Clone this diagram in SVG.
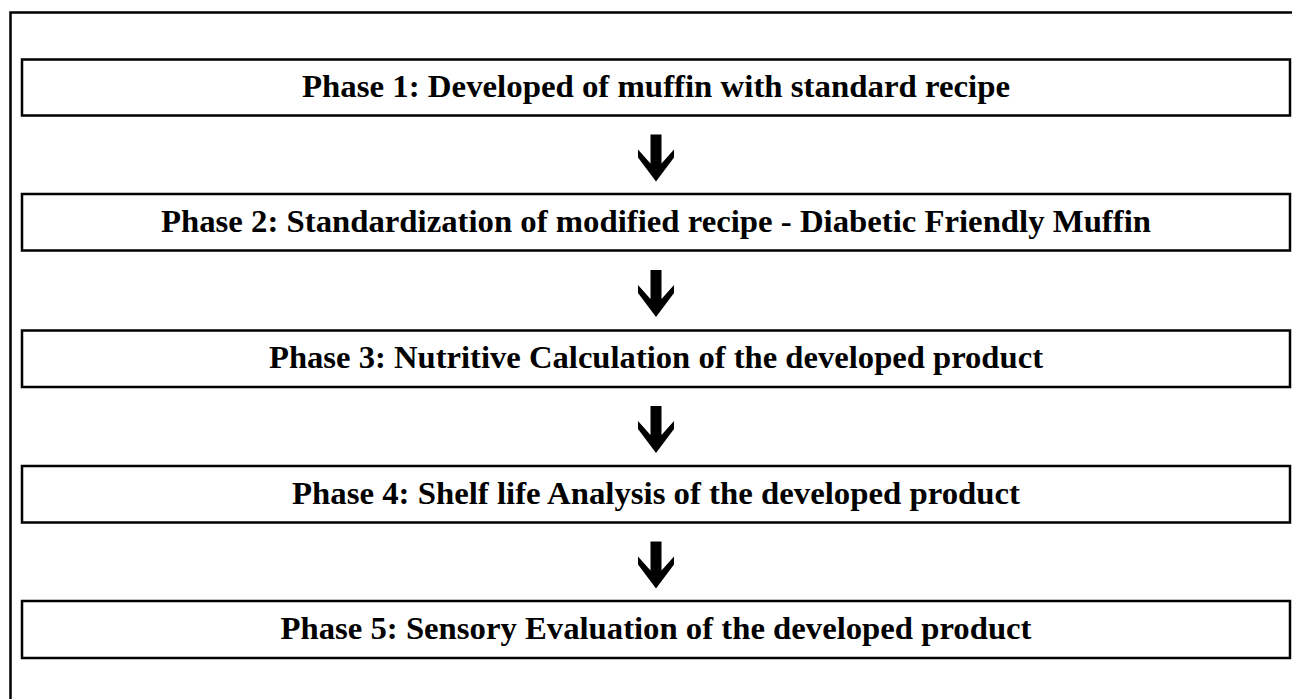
<svg xmlns="http://www.w3.org/2000/svg" width="1292" height="699" viewBox="0 0 1292 699">
<defs>
<style>
.box{fill:#fff;stroke:#000;stroke-width:2.5}
.lbl{font-family:"Liberation Serif","Times New Roman",serif;font-weight:bold;font-size:31px;text-anchor:middle;fill:#000}
.arr{fill:#000}
.frame{fill:none;stroke:#000;stroke-width:2.5}
</style>
<path id="arrowShape" d="M-5.5,0 H5.5 V29 L18,15 V23 L0,47 L-18,23 V15 L-5.5,29 Z"/>
</defs>
<rect width="1292" height="699" fill="#fff"/>
<path class="frame" d="M10.5,699 V12.5 H1292"/>
<g id="phase1"><rect class="box" x="22" y="59.5" width="1268" height="56"/><text class="lbl" x="656" y="97" textLength="708" lengthAdjust="spacingAndGlyphs">Phase 1: Developed of muffin with standard recipe</text></g>
<g id="phase2"><rect class="box" x="22" y="194" width="1268" height="56.5"/><text class="lbl" x="656" y="232" textLength="990" lengthAdjust="spacingAndGlyphs">Phase 2: Standardization of modified recipe - Diabetic Friendly Muffin</text></g>
<g id="phase3"><rect class="box" x="22" y="330.5" width="1268" height="56.5"/><text class="lbl" x="656" y="368" textLength="774" lengthAdjust="spacingAndGlyphs">Phase 3: Nutritive Calculation of the developed product</text></g>
<g id="phase4"><rect class="box" x="22" y="466" width="1268" height="56.5"/><text class="lbl" x="656" y="504" textLength="728" lengthAdjust="spacingAndGlyphs">Phase 4: Shelf life Analysis of the developed product</text></g>
<g id="phase5"><rect class="box" x="22" y="601" width="1268" height="57"/><text class="lbl" x="656" y="639" textLength="751" lengthAdjust="spacingAndGlyphs">Phase 5: Sensory Evaluation of the developed product</text></g>
<g id="connectors">
<use href="#arrowShape" class="arr" x="656" y="134.5"/>
<use href="#arrowShape" class="arr" x="656" y="270"/>
<use href="#arrowShape" class="arr" x="656" y="406"/>
<use href="#arrowShape" class="arr" x="656" y="541.5"/>
</g>
</svg>
